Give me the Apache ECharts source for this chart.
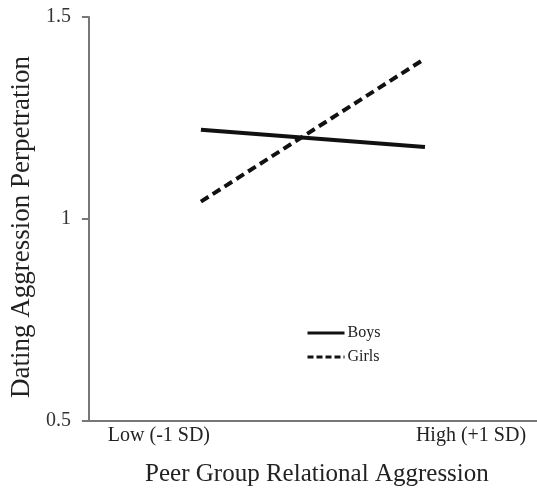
<!DOCTYPE html>
<html>
<head>
<meta charset="utf-8">
<script src="https://cdn.jsdelivr.net/npm/echarts@6/dist/echarts.min.js"></script>
<style>html,body{margin:0;padding:0;background:#fff}#c{width:537px;height:492px}</style>
</head>
<body>
<div id="c"></div>
<script>
const categories = ['Low (-1 SD)', 'High (+1 SD)'];
const boys = [1.221, 1.178];
const girls = [1.043, 1.397];
const yTicks = { min: 0.5, max: 1.5, interval: 0.5 };
const xTitle = 'Peer Group Relational Aggression';
const yTitle = 'Dating Aggression Perpetration';

const FONT = '"Liberation Serif", "Times New Roman", serif';
const chart = echarts.init(document.getElementById('c'), null, { renderer: 'canvas' });
chart.setOption({
  animation: false,
  backgroundColor: '#fff',
  textStyle: { fontFamily: FONT },
  grid: { left: 86, right: 0, top: 17, bottom: 65, containLabel: false },
  legend: {
    orient: 'vertical',
    left: 306,
    top: 325,
    padding: 0,
    itemWidth: 37,
    itemHeight: 12,
    itemGap: 8,
    itemStyle: { opacity: 0 },
    textStyle: { fontFamily: FONT, fontSize: 16, color: '#222', padding: [0, 0, 0, -2] },
    data: [
      { name: 'Boys', itemStyle: { opacity: 0 }, lineStyle: { type: 'solid', width: 3, color: '#111', opacity: 1 } },
      { name: 'Girls', itemStyle: { opacity: 0 }, lineStyle: { type: [6, 3], width: 3, color: '#111', opacity: 1 } }
    ]
  },
  xAxis: {
    type: 'category',
    data: categories,
    boundaryGap: true,
    name: xTitle,
    nameLocation: 'middle',
    nameGap: 41,
    nameTextStyle: { fontFamily: FONT, fontSize: 25, color: '#222', padding: [0, 0, 0, 8] },
    axisLine: { lineStyle: { color: '#777', width: 2 } },
    axisTick: { show: false },
    axisLabel: {
      margin: 5,
      fontFamily: FONT, fontSize: 20, color: '#222',
      formatter: function (v, i) { return i === 0 ? '{l|' + v + '}' : '{h|' + v + '}'; },
      rich: {
        l: { fontFamily: FONT, fontSize: 20, color: '#222', padding: [0, 84, 0, 0] },
        h: { fontFamily: FONT, fontSize: 20, color: '#222', padding: [0, 0, 0, 92] }
      }
    },
    splitLine: { show: false }
  },
  yAxis: {
    type: 'value',
    min: yTicks.min, max: yTicks.max, interval: yTicks.interval,
    name: yTitle,
    nameLocation: 'middle',
    nameGap: 50,
    nameRotate: 90,
    nameTextStyle: { fontFamily: FONT, fontSize: 27, color: '#222', padding: [0, 16, 0, 0] },
    axisLine: { show: true, lineStyle: { color: '#777', width: 2 } },
    axisTick: { show: true, length: 7, lineStyle: { color: '#777', width: 2 } },
    axisLabel: {
      margin: 18, fontFamily: FONT, fontSize: 20, color: '#333',
      formatter: function (v) { return String(v); }
    },
    splitLine: { show: false }
  },
  series: [
    {
      name: 'Boys', type: 'line', data: boys, symbol: 'none',
      lineStyle: { color: '#111', width: 4, type: 'solid' },
      itemStyle: { color: '#111' }
    },
    {
      name: 'Girls', type: 'line', data: girls, symbol: 'none',
      lineStyle: { color: '#111', width: 4, type: [9, 5] },
      itemStyle: { color: '#111' }
    }
  ]
});
</script>
</body>
</html>
